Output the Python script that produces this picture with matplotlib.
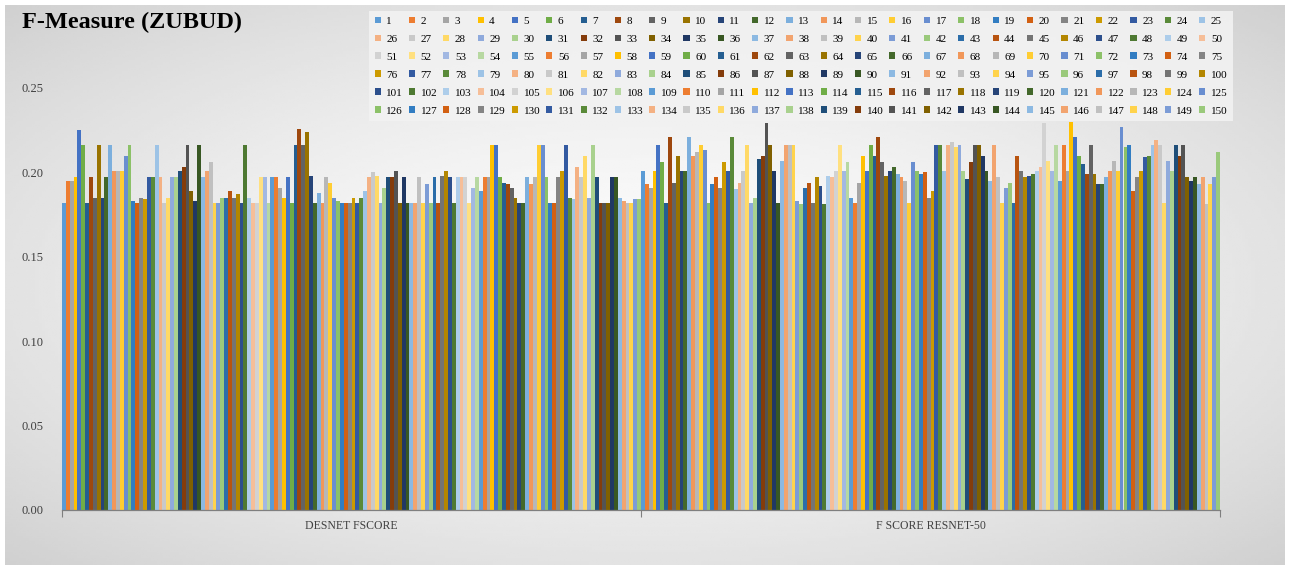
import colorsys
import numpy as np
import matplotlib
matplotlib.use("Agg")
import matplotlib.pyplot as plt
from matplotlib.patches import Patch

categories = ["DESNET FSCORE", "F SCORE RESNET-50"]
series_names = [str(i) for i in range(1, 151)]

desnet_fscore = [
    0.182, 0.195, 0.195, 0.197, 0.225, 0.216, 0.182, 0.197, 0.185, 0.216,
    0.185, 0.197, 0.216, 0.201, 0.201, 0.201, 0.210, 0.216, 0.183, 0.182,
    0.185, 0.184, 0.197, 0.197, 0.216, 0.197, 0.182, 0.185, 0.197, 0.197,
    0.201, 0.203, 0.216, 0.189, 0.183, 0.216, 0.197, 0.201, 0.206, 0.182,
    0.182, 0.185, 0.185, 0.189, 0.185, 0.187, 0.182, 0.216, 0.185, 0.182,
    0.182, 0.197, 0.197, 0.182, 0.197, 0.197, 0.191, 0.185, 0.197, 0.182,
    0.216, 0.226, 0.216, 0.224, 0.198, 0.182, 0.188, 0.182, 0.197, 0.194,
    0.185, 0.183, 0.182, 0.182, 0.182, 0.185, 0.182, 0.185, 0.189, 0.197,
    0.200, 0.198, 0.182, 0.191, 0.197, 0.197, 0.201, 0.182, 0.197, 0.182,
    0.182, 0.182, 0.197, 0.182, 0.193, 0.182, 0.197, 0.182, 0.198, 0.201,
    0.197, 0.182, 0.197, 0.197, 0.197, 0.182, 0.191, 0.197, 0.189, 0.197,
    0.197, 0.216, 0.216, 0.197, 0.194, 0.193, 0.191, 0.185, 0.182, 0.182,
    0.197, 0.193, 0.197, 0.216, 0.216, 0.197, 0.182, 0.182, 0.197, 0.201,
    0.216, 0.185, 0.184, 0.203, 0.197, 0.210, 0.185, 0.216, 0.197, 0.182,
    0.182, 0.182, 0.197, 0.197, 0.185, 0.183, 0.182, 0.182, 0.184, 0.184,
]

resnet50_fscore = [
    0.201, 0.193, 0.191, 0.201, 0.216, 0.206, 0.182, 0.221, 0.194, 0.210,
    0.201, 0.201, 0.221, 0.210, 0.212, 0.216, 0.213, 0.182, 0.193, 0.197,
    0.191, 0.206, 0.201, 0.221, 0.190, 0.194, 0.201, 0.216, 0.182, 0.185,
    0.208, 0.210, 0.229, 0.216, 0.201, 0.182, 0.207, 0.216, 0.216, 0.216,
    0.183, 0.181, 0.191, 0.194, 0.182, 0.197, 0.192, 0.181, 0.198, 0.197,
    0.201, 0.216, 0.201, 0.206, 0.185, 0.182, 0.194, 0.210, 0.201, 0.216,
    0.210, 0.221, 0.206, 0.198, 0.201, 0.203, 0.199, 0.197, 0.195, 0.182,
    0.206, 0.201, 0.199, 0.200, 0.185, 0.189, 0.216, 0.216, 0.201, 0.216,
    0.218, 0.215, 0.216, 0.201, 0.196, 0.206, 0.216, 0.216, 0.210, 0.201,
    0.195, 0.216, 0.197, 0.182, 0.191, 0.194, 0.182, 0.210, 0.201, 0.197,
    0.198, 0.199, 0.201, 0.203, 0.229, 0.207, 0.201, 0.216, 0.195, 0.216,
    0.201, 0.230, 0.221, 0.210, 0.205, 0.199, 0.216, 0.199, 0.193, 0.193,
    0.197, 0.201, 0.207, 0.201, 0.227, 0.215, 0.216, 0.189, 0.197, 0.201,
    0.209, 0.210, 0.216, 0.219, 0.216, 0.182, 0.207, 0.201, 0.216, 0.210,
    0.216, 0.197, 0.195, 0.197, 0.193, 0.197, 0.181, 0.193, 0.197, 0.212,
]

# office theme accents and the luminance variations used for series > 6
accents = ["#5B9BD5", "#ED7D31", "#A5A5A5", "#FFC000", "#4472C4", "#70AD47"]
variations = [(1.0, 0.0), (0.6, 0.0), (0.8, 0.2), (0.8, 0.0), (0.6, 0.4),
              (0.5, 0.0), (0.7, 0.3), (0.7, 0.0), (0.5, 0.5)]


def series_color(k):
    base = accents[k % 6]
    mod, off = variations[(k // 6) % len(variations)]
    r, g, b = matplotlib.colors.to_rgb(base)
    h, l, s = colorsys.rgb_to_hls(r, g, b)
    l = min(1.0, l * mod + off)
    return colorsys.hls_to_rgb(h, l, s)


colors = [series_color(k) for k in range(len(series_names))]

W, H = 1290, 570
fig = plt.figure(figsize=(W / 100, H / 100), dpi=100)
fig.patch.set_facecolor("white")

# soft grey vignette behind the chart
bg = fig.add_axes([5 / W, 5 / H, 1280 / W, 560 / H], zorder=-5)
gx, gy = np.meshgrid(np.linspace(-1, 1, 400), np.linspace(-1, 1, 200))
rr = np.sqrt(gx ** 2 + gy ** 2) / np.sqrt(2)
shade = 0.985 - 0.17 * rr ** 1.6
bg.imshow(shade, cmap="gray", vmin=0, vmax=1, aspect="auto", interpolation="bilinear")
bg.axis("off")

ax = fig.add_axes([62 / W, 60 / H, (1220 - 62) / W, (510 - 88) / H])
ax.set_facecolor("none")

n = len(series_names)
width = 1.0 / n
xc = np.arange(len(categories))
for k in range(n):
    vals = [desnet_fscore[k], resnet50_fscore[k]]
    ax.bar(xc - 0.5 + (k + 0.5) * width, vals, width=width, color=colors[k],
           linewidth=0, label=series_names[k])

ax.set_xlim(-0.5, len(categories) - 0.5)
ax.set_ylim(0, 0.25)
ax.set_yticks(np.arange(0, 0.2501, 0.05))
ax.set_yticklabels(["%.2f" % v for v in np.arange(0, 0.2501, 0.05)],
                   family="Liberation Serif", fontsize=9, color="#404040")
ax.tick_params(axis="y", length=0, pad=13)
ax.set_xticks(xc)
ax.set_xticklabels(categories, family="Liberation Serif", fontsize=8.5, color="#404040")
ax.tick_params(axis="x", which="major", length=0, pad=7)
ax.set_xticks(np.arange(-0.5, len(categories)), minor=True)
ax.tick_params(axis="x", which="minor", length=5, color="#7f7f7f", width=0.8)
for side in ["left", "right", "top"]:
    ax.spines[side].set_visible(False)
ax.spines["bottom"].set_color("#7f7f7f")
ax.spines["bottom"].set_linewidth(0.9)

fig.text(22 / W, 1 - 22 / H, "F-Measure (ZUBUD)", family="Liberation Serif",
         fontsize=17.5, fontweight="bold", color="black", va="center", ha="left")

# legend laid out row by row: 25 columns x 6 rows
handles = [Patch(facecolor=colors[k], edgecolor="none") for k in range(n)]
ncol, nrow = 25, 6
order = [r * ncol + c for c in range(ncol) for r in range(nrow)]
leg = fig.legend([handles[i] for i in order], [series_names[i] for i in order],
                 ncol=ncol, loc="upper left",
                 bbox_to_anchor=(369 / W, 1 - 11 / H, (1233 - 369) / W, 0),
                 mode="expand", handlelength=0.55, handleheight=0.55,
                 handletextpad=0.5, columnspacing=0.3, labelspacing=0.78,
                 borderpad=0.5, borderaxespad=0, frameon=True, fancybox=False,
                 prop={"family": "Liberation Serif", "size": 8})
leg.get_frame().set_facecolor("#f2f2f2")
leg.get_frame().set_edgecolor("none")
leg.get_frame().set_alpha(0.9)

fig.savefig("out.png", dpi=100)
